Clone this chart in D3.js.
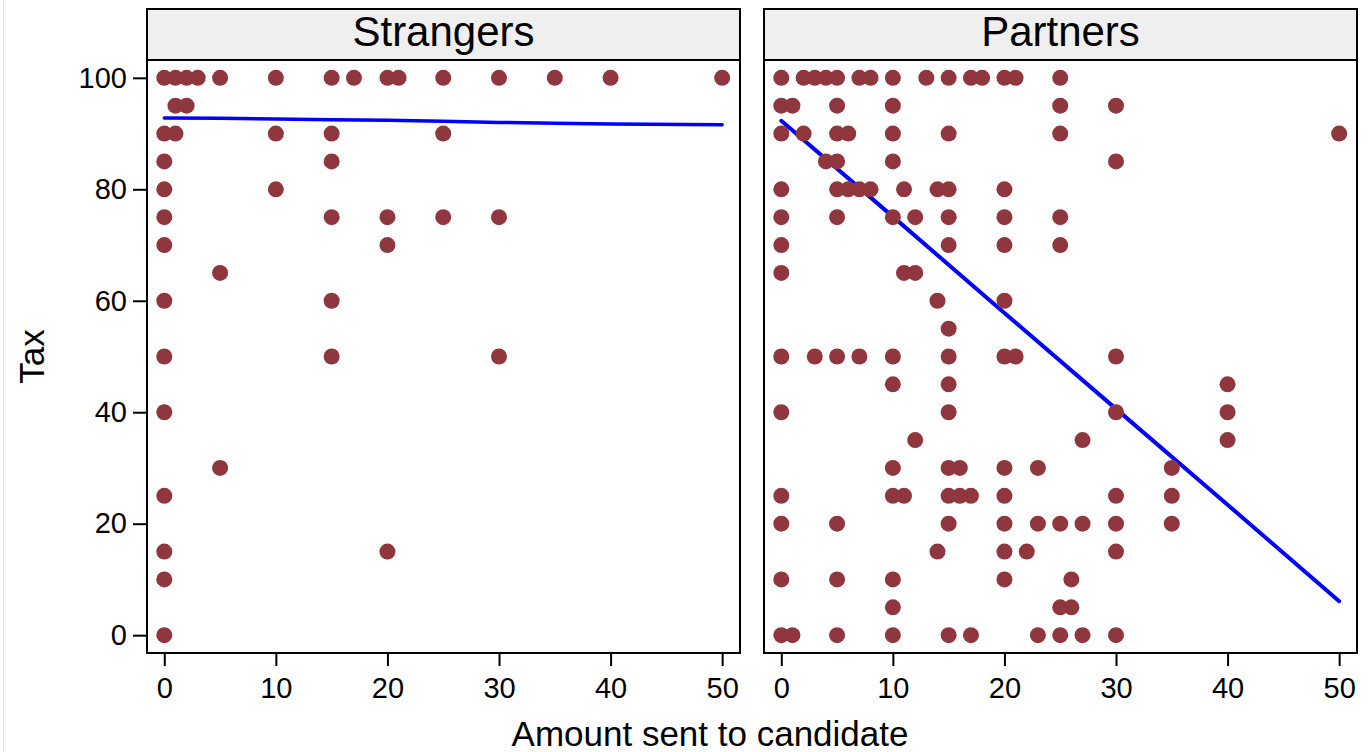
<!DOCTYPE html>
<html>
<head>
<meta charset="utf-8">
<script src="https://cdnjs.cloudflare.com/ajax/libs/d3/7.8.5/d3.min.js"></script>
<style>
  body { margin: 0; background: #fff; }
  svg { display: block; font-family: "Liberation Sans", Arial, sans-serif; }
</style>
</head>
<body>
<script>
// Panel titles
var panelNames = ["Strangers", "Partners"];

// Scatter data, one row per tax level: [tax, amounts sent]
var strangersRows = [
  [100, [0, 1, 2, 3, 5, 10, 15, 17, 20, 21, 25, 30, 35, 40, 50]],
  [95, [1, 2]],
  [90, [0, 1, 10, 15, 25]],
  [85, [0, 15]],
  [80, [0, 10]],
  [75, [0, 15, 20, 25, 30]],
  [70, [0, 20]],
  [65, [5]],
  [60, [0, 15]],
  [50, [0, 15, 30]],
  [40, [0]],
  [30, [5]],
  [25, [0]],
  [15, [0, 20]],
  [10, [0]],
  [0, [0]]
];

var partnersRows = [
  [100, [0, 2, 3, 4, 5, 7, 8, 10, 13, 15, 17, 18, 20, 21, 25]],
  [95, [0, 1, 5, 10, 25, 30]],
  [90, [0, 2, 5, 6, 10, 15, 25, 50]],
  [85, [4, 5, 10, 30]],
  [80, [0, 5, 6, 7, 8, 11, 14, 15, 20]],
  [75, [0, 5, 10, 12, 15, 20, 25]],
  [70, [0, 15, 20, 25]],
  [65, [0, 11, 12]],
  [60, [14, 20]],
  [55, [15]],
  [50, [0, 3, 5, 7, 10, 15, 20, 21, 30]],
  [45, [10, 15, 40]],
  [40, [0, 15, 30, 40]],
  [35, [12, 27, 40]],
  [30, [10, 15, 16, 20, 23, 35]],
  [25, [0, 10, 11, 15, 16, 17, 20, 30, 35]],
  [20, [0, 5, 15, 20, 23, 25, 27, 30, 35]],
  [15, [14, 20, 22, 30]],
  [10, [0, 5, 10, 20, 26]],
  [5, [10, 25, 26]],
  [0, [0, 1, 5, 10, 15, 17, 23, 25, 27, 30]]
];

// Fitted lines
var strangersFitX = [0, 5, 10, 15, 20, 25, 30, 35, 40, 50];
var strangersFitY = [92.8, 92.75, 92.6, 92.5, 92.4, 92.2, 92.0, 91.85, 91.7, 91.6];
var partnersFitX = [0, 10, 20, 30, 40, 50];
var partnersFitY = [92.3, 75.1, 57.8, 40.6, 23.4, 6.1];

// Axis ticks
var xTicks = [0, 10, 20, 30, 40, 50];
var yTicks = [0, 20, 40, 60, 80, 100];

var width = 1370, height = 752;
var panelLeft = [147, 764];
var panelWidth = 593;
var stripTop = 9, plotTop = 60, plotBottom = 653;

var svg = d3.select("body").append("svg")
    .attr("width", width)
    .attr("height", height);

svg.append("rect")
    .attr("width", width)
    .attr("height", height)
    .attr("fill", "#fff");

// faint outer frame on the left
svg.append("line")
    .attr("x1", 3.5).attr("x2", 3.5)
    .attr("y1", 0).attr("y2", height)
    .attr("stroke", "#e4e4e4")
    .attr("stroke-width", 1);

var y = d3.scaleLinear().domain([-3.2, 103.2]).range([plotBottom, plotTop]);

function toPoints(rows) {
  var pts = [];
  rows.forEach(function(r) {
    r[1].forEach(function(a) { pts.push({x: a, y: r[0]}); });
  });
  return pts;
}

var panels = [
  {name: panelNames[0], pts: toPoints(strangersRows), fx: strangersFitX, fy: strangersFitY, lw: 3.5},
  {name: panelNames[1], pts: toPoints(partnersRows), fx: partnersFitX, fy: partnersFitY, lw: 4}
];

panels.forEach(function(p, i) {
  var left = panelLeft[i];
  var x = d3.scaleLinear().domain([-1.55, 51.6]).range([left, left + panelWidth]);
  var g = svg.append("g");

  // header strip
  g.append("rect")
      .attr("x", left).attr("y", stripTop)
      .attr("width", panelWidth).attr("height", plotTop - stripTop)
      .attr("fill", "#efefef")
      .attr("stroke", "#000")
      .attr("stroke-width", 2);

  g.append("text")
      .attr("x", left + panelWidth / 2)
      .attr("y", 46)
      .attr("text-anchor", "middle")
      .style("font-size", "42px")
      .text(p.name);

  // fitted line
  var line = d3.line()
      .x(function(d) { return x(d[0]); })
      .y(function(d) { return y(d[1]); });
  g.append("path")
      .datum(d3.zip(p.fx, p.fy))
      .attr("d", line)
      .attr("fill", "none")
      .attr("stroke", "#0000ff")
      .attr("stroke-width", p.lw)
      .attr("stroke-linejoin", "round")
      .attr("stroke-linecap", "round");

  // points
  g.selectAll("circle")
      .data(p.pts)
      .enter().append("circle")
      .attr("cx", function(d) { return x(d.x); })
      .attr("cy", function(d) { return y(d.y); })
      .attr("r", 8)
      .attr("fill", "#8f363e");

  // plot frame
  g.append("rect")
      .attr("x", left).attr("y", plotTop)
      .attr("width", panelWidth).attr("height", plotBottom - plotTop)
      .attr("fill", "none")
      .attr("stroke", "#000")
      .attr("stroke-width", 2);

  // x axis
  var xAxis = g.append("g")
      .attr("transform", "translate(0," + (plotBottom + 1) + ")")
      .call(d3.axisBottom(x).tickValues(xTicks).tickSize(12).tickPadding(11));
  xAxis.select(".domain").remove();
  xAxis.selectAll("line").attr("stroke", "#000").attr("stroke-width", 2);
  xAxis.selectAll("text")
      .style("font-size", "29px")
      .style("font-family", "'Liberation Sans', Arial, sans-serif")
      .attr("fill", "#000");

  // y axis only on the first panel
  if (i === 0) {
    var yAxis = g.append("g")
        .attr("transform", "translate(" + (left - 1) + ",0)")
        .call(d3.axisLeft(y).tickValues(yTicks).tickSize(13).tickPadding(6));
    yAxis.select(".domain").remove();
    yAxis.selectAll("line").attr("stroke", "#000").attr("stroke-width", 2);
    yAxis.selectAll("text")
        .style("font-size", "29px")
        .style("font-family", "'Liberation Sans', Arial, sans-serif")
        .attr("fill", "#000");
  }
});

// axis titles
svg.append("text")
    .attr("x", 710)
    .attr("y", 746)
    .attr("text-anchor", "middle")
    .style("font-size", "35px")
    .text("Amount sent to candidate");

svg.append("text")
    .attr("transform", "translate(44," + ((plotTop + plotBottom) / 2) + ") rotate(-90)")
    .attr("text-anchor", "middle")
    .style("font-size", "35px")
    .text("Tax");
</script>
</body>
</html>
